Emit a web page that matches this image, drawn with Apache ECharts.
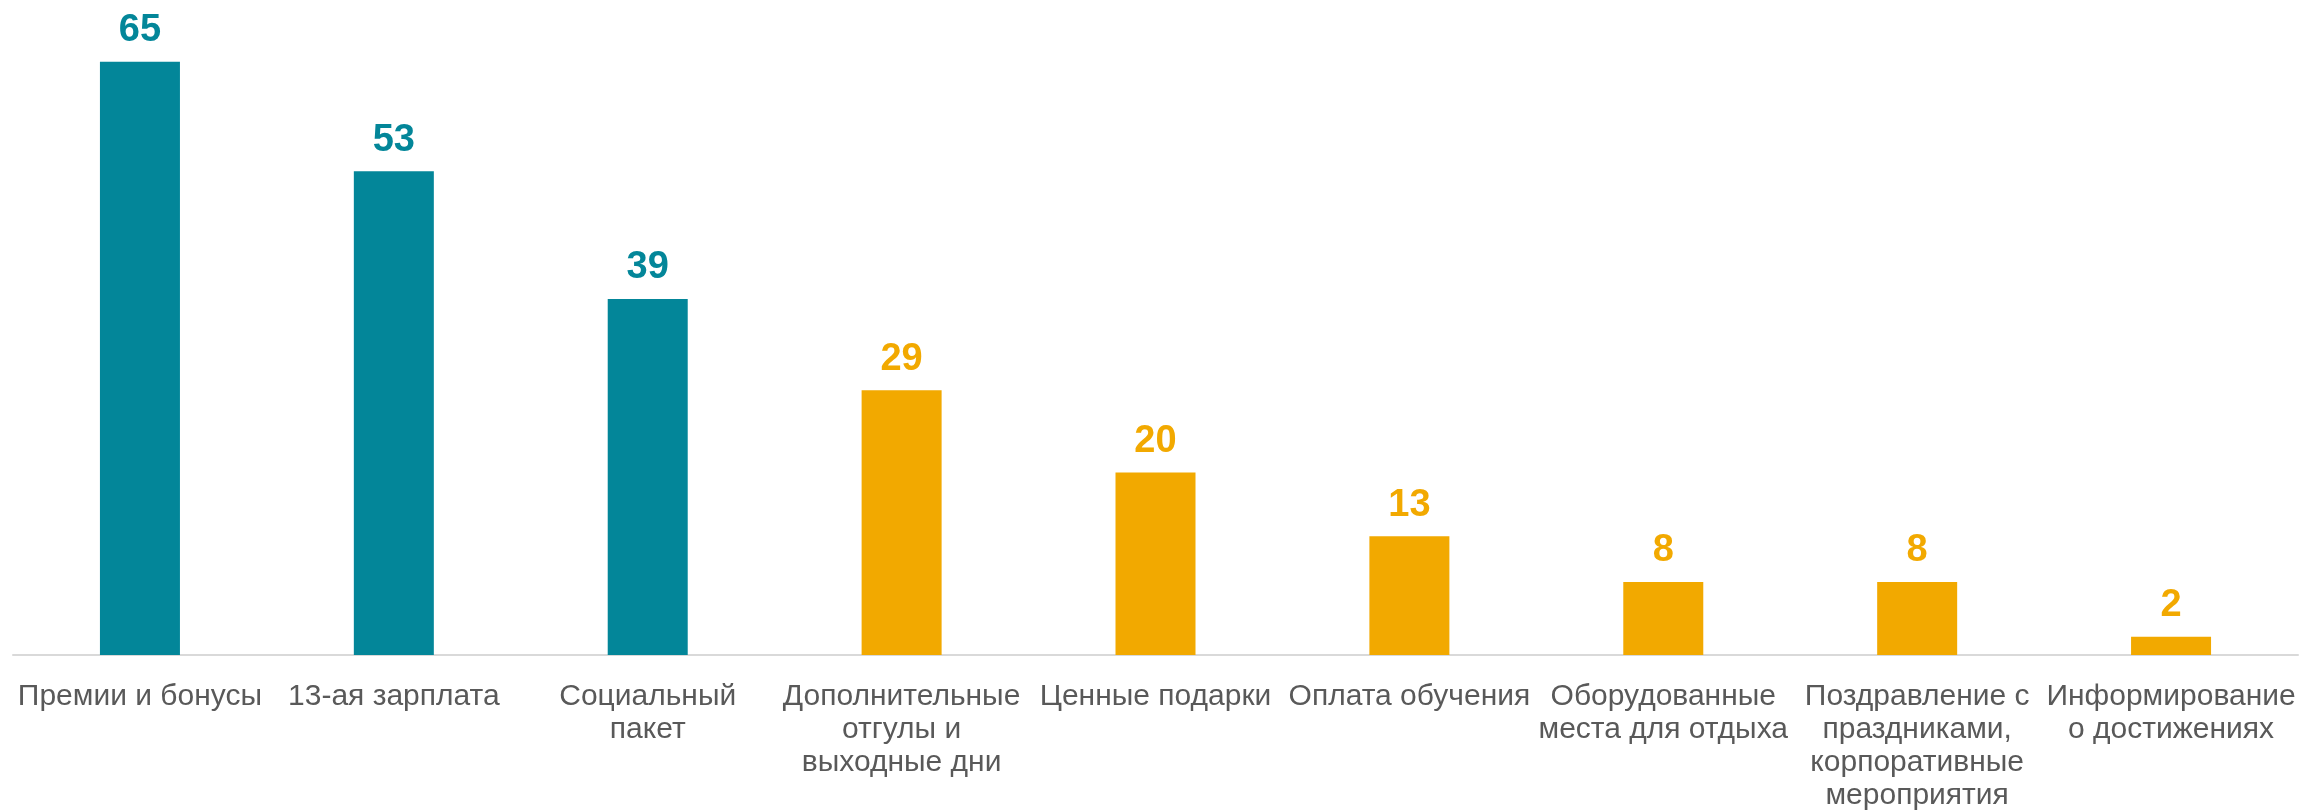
<!DOCTYPE html>
<html>
<head>
<meta charset="utf-8">
<script src="https://cdn.jsdelivr.net/npm/echarts@6/dist/echarts.min.js"></script>
<style>
html,body{margin:0;padding:0;background:#fff;}
#chart{width:2300px;height:812px;}
</style>
</head>
<body>
<div id="chart"></div>
<script>
const categories = [
  "Премии и бонусы",
  "13-ая зарплата",
  "Социальный\nпакет",
  "Дополнительные\nотгулы и\nвыходные дни",
  "Ценные подарки",
  "Оплата обучения",
  "Оборудованные\nместа для отдыха",
  "Поздравление с\nпраздниками,\nкорпоративные\nмероприятия",
  "Информирование\nо достижениях"
];
const values = [65, 53, 39, 29, 20, 13, 8, 8, 2];
const groups = ["main", "main", "main", "other", "other", "other", "other", "other", "other"];

const TEAL = "#038699";
const ORANGE = "#F2A900";
const colorOf = g => g === "main" ? TEAL : ORANGE;

const chart = echarts.init(document.getElementById('chart'), null, {renderer: 'canvas'});
chart.setOption({
  animation: false,
  backgroundColor: '#ffffff',
  grid: {left: 13, right: 2, top: 16, bottom: 152, containLabel: false},
  xAxis: {
    type: 'category',
    data: categories,
    axisLine: {show: true, lineStyle: {color: '#D9D9D9', width: 2}},
    axisTick: {show: false},
    axisLabel: {
      interval: 0,
      color: '#595959',
      fontFamily: '"Liberation Sans", Arial, sans-serif',
      fontSize: 30,
      lineHeight: 33,
      margin: 25
    }
  },
  yAxis: {
    type: 'value',
    min: 0,
    max: 70,
    show: false,
    splitLine: {show: false}
  },
  series: [{
    type: 'bar',
    data: values.map((v, i) => ({
      value: v,
      itemStyle: {color: colorOf(groups[i])},
      label: {color: colorOf(groups[i])}
    })),
    barWidth: 80,
    label: {
      show: true,
      position: 'top',
      distance: 12,
      fontFamily: '"Liberation Sans", Arial, sans-serif',
      fontWeight: 'bold',
      fontSize: 38
    }
  }]
});
</script>
</body>
</html>
